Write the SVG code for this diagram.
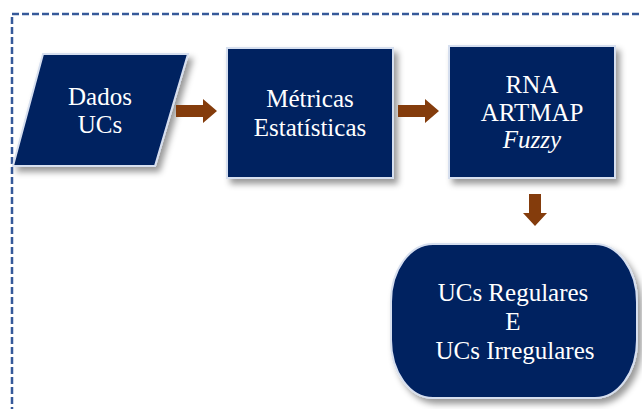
<svg xmlns="http://www.w3.org/2000/svg" width="642" height="409" viewBox="0 0 642 409">
<style>
.node{fill:#002060;stroke:#D6DFEF;stroke-width:2;filter:url(#sh)}
.lbl{font-family:"Liberation Serif","Times New Roman",serif;font-size:25px;fill:#FFFFFF;text-anchor:middle}
.arr{fill:#843C0C}
.frame{fill:none;stroke:#36599A;stroke-width:2.5;stroke-dasharray:7 3}
</style>
<defs>
<filter id="sh" x="-20%" y="-20%" width="150%" height="150%">
<feDropShadow dx="4" dy="5" stdDeviation="3" flood-color="#000" flood-opacity="0.4"/>
</filter>
</defs>
<rect class="frame" x="12" y="14" width="660" height="420"/>
<g id="dados">
<polygon class="node" points="43,54 188,54 155,166 13,166"/>
<text class="lbl" x="100" y="105">Dados</text>
<text class="lbl" x="100" y="133">UCs</text>
</g>
<g id="metricas">
<rect class="node" x="227" y="48" width="166" height="130"/>
<text class="lbl" x="310" y="107">Métricas</text>
<text class="lbl" x="310" y="136">Estatísticas</text>
</g>
<g id="rna">
<rect class="node" x="449" y="46" width="166" height="132"/>
<text class="lbl" x="532" y="93">RNA</text>
<text class="lbl" x="532" y="121">ARTMAP</text>
<text class="lbl" x="532" y="148" font-style="italic">Fuzzy</text>
</g>
<g id="resultado">
<rect class="node" x="391" y="244" width="246" height="154" rx="42" ry="58"/>
<text class="lbl" x="513" y="301">UCs Regulares</text>
<text class="lbl" x="513" y="330">E</text>
<text class="lbl" x="515" y="359">UCs Irregulares</text>
</g>
<g id="connectors">
<polygon class="arr" points="176,105 203,105 203,99 217,111 203,123 203,117 176,117"/>
<polygon class="arr" points="398,105 425,105 425,99 439,111 425,123 425,117 398,117"/>
<polygon class="arr" points="529,194 541,194 541,213 547,213 535,226 523,213 529,213"/>
</g>
</svg>
